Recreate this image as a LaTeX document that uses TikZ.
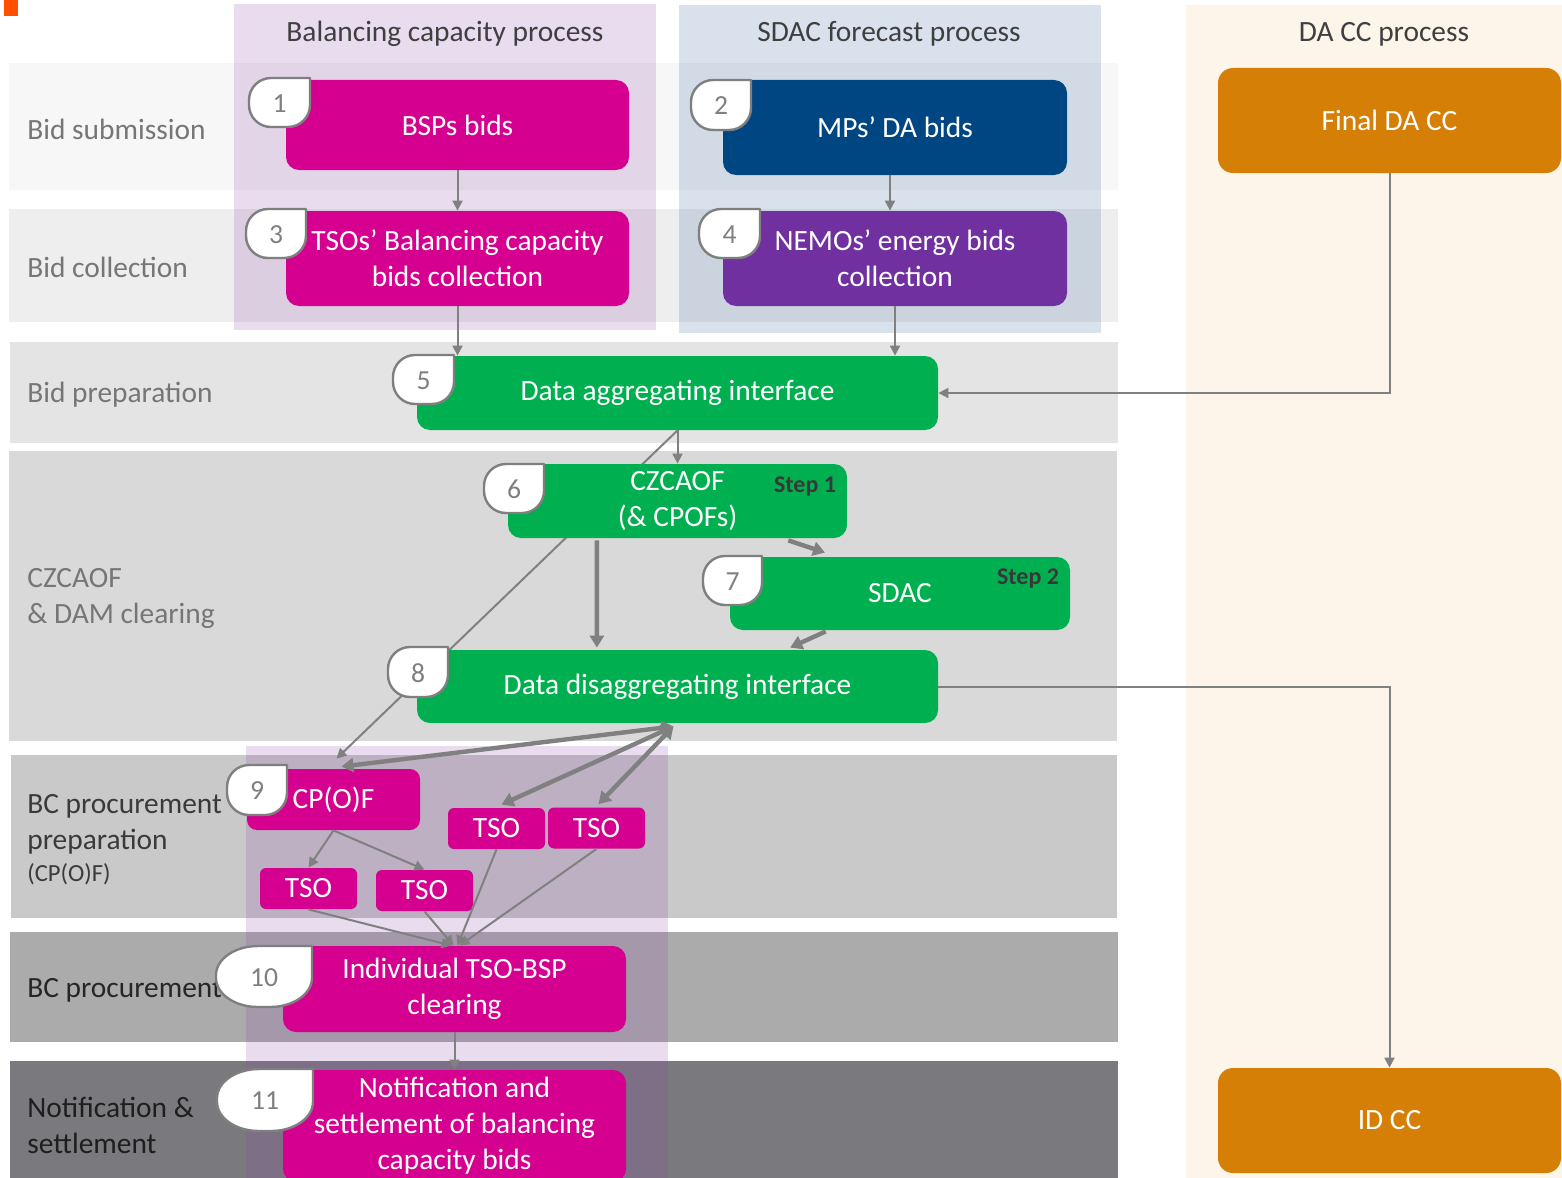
\documentclass[tikz,border=0pt]{standalone}
\usepackage{fontspec}
\setmainfont{Carlito}
\usetikzlibrary{arrows.meta,calc}

\pgfdeclarelayer{bg}
\pgfdeclarelayer{wires}
\pgfsetlayers{bg,wires,main}

% palette
\definecolor{mag}{HTML}{D5008F}
\definecolor{navy}{HTML}{004682}
\definecolor{nemo}{HTML}{7030A0}
\definecolor{grn}{HTML}{00B050}
\definecolor{orng}{HTML}{D57F07}
\definecolor{markorange}{HTML}{FF5000}
\definecolor{rowA}{HTML}{F7F7F7}
\definecolor{rowB}{HTML}{EEEEEE}
\definecolor{rowC}{HTML}{E4E4E4}
\definecolor{rowD}{HTML}{D9D9D9}
\definecolor{rowE}{HTML}{C9C9C9}
\definecolor{rowF}{HTML}{ABABAB}
\definecolor{rowG}{HTML}{7A797E}
\definecolor{tintpurple}{HTML}{8C50AA}
\definecolor{tintblue}{HTML}{416EA0}
\definecolor{dacccol}{HTML}{FDF4EA}
\definecolor{linegray}{HTML}{808080}
\definecolor{taggray}{HTML}{7F7F7F}
\definecolor{headgray}{HTML}{3F3F3F}
\definecolor{labA}{HTML}{767676}
\definecolor{labB}{HTML}{3A3A3A}
\definecolor{labC}{HTML}{262626}
\definecolor{labD}{HTML}{1E1E1E}
\definecolor{stepgray}{HTML}{383838}

\newcommand\mainfs{\fontsize{14.7}{18}\selectfont}
\newcommand\smallfs{\fontsize{12.3}{14}\selectfont}
\newcommand\tagfs{\fontsize{13.8}{15}\selectfont}
\newcommand\stepfs{\fontsize{12}{13}\selectfont}

% numbered call-out: name, x0, y0, x1, y1, rx, ry, number
\newcommand\numtag[8]{%
  \draw[tagline]
    (#4,#3) -- (#4,{#5-#7})
    .. controls (#4,{#5-0.448*#7}) and ({#4-0.448*#6},#5) .. ({#4-#6},#5)
    -- ({#2+#6},#5)
    .. controls ({#2+0.448*#6},#5) and (#2,{#5-0.448*#7}) .. (#2,{#5-#7})
    -- (#2,{#3+#7})
    .. controls (#2,{#3+0.448*#7}) and ({#2+0.448*#6},#3) .. ({#2+#6},#3)
    -- cycle;
  \node[tagnum] (#1) at ({(#2+#4)/2},{(#3+#5)/2+1}) {#8};
}

\tikzset{
  proc/.style={rounded corners=6.5pt, inner sep=1pt, align=center, text=white, font=\mainfs},
  tsobox/.style={proc, fill=mag, rounded corners=3pt, minimum width=48.5pt, minimum height=20.5pt},
  lane/.style={anchor=west, align=left, inner sep=0pt, font=\mainfs},
  colhead/.style={text=headgray, font=\mainfs, inner sep=0pt},
  tagline/.style={draw=taggray, line width=1.2pt, fill=white, line join=round},
  tagnum/.style={text=taggray, font=\tagfs, inner sep=0pt},
  flow/.style={draw=linegray, line width=1pt, -{Triangle[length=5pt,width=5pt]}},
  heavy/.style={draw=linegray, line width=2.2pt, -{Triangle[length=6pt,width=7pt]}},
  twoway/.style={draw=linegray, line width=2.2pt, {Triangle[length=6pt,width=7pt]}-{Triangle[length=6pt,width=7pt]}},
  steplabel/.style={font=\stepfs\bfseries, text=stepgray, inner sep=0pt},
}

\begin{document}
\begin{tikzpicture}[x=0.5pt,y=-0.5pt]
\useasboundingbox (0,0) rectangle (1562,1177);
\clip (0,0) rectangle (1562,1177);

\begin{pgfonlayer}{bg}
  \fill[white] (0,0) rectangle (1562,1177);
  \fill[markorange] (4,0) rectangle (18,16);
  % process stages (rows)
  \fill[rowA] (9,63) rectangle (1118,190);
  \fill[rowB] (9,209) rectangle (1118,322);
  \fill[rowC] (10,342) rectangle (1118,443);
  \fill[rowD] (9,451) rectangle (1117,741);
  \fill[rowE] (11,755) rectangle (1117,918);
  \fill[rowF] (10,932) rectangle (1118,1042);
  \fill[rowG] (10,1061) rectangle (1118,1185);
  % process columns
  \fill[tintpurple, fill opacity=0.2] (234,4) rectangle (656,330);
  \fill[tintblue, fill opacity=0.2] (679,5) rectangle (1101,333);
  \fill[dacccol] (1186,5) rectangle (1562,1185);
  \fill[tintpurple, fill opacity=0.2] (246,746) rectangle (668,1185);
\end{pgfonlayer}

% column headings
\node[colhead] (hbal) at (445,34) {Balancing capacity process};
\node[colhead] (hsdac) at (889,34) {SDAC forecast process};
\node[colhead] (hdacc) at (1384,34) {DA CC process};

% stage labels
\node[lane, text=labA] (lsub) at (27,129) {Bid submission};
\node[lane, text=labA] (lcol) at (27,267) {Bid collection};
\node[lane, text=labA] (lprep) at (27,395) {Bid preparation};
\node[lane, text=labA] (lczc) at (27,598) {CZCAOF\\\& DAM clearing};
\node[lane, text=labB] (lbcp) at (27,824) {BC procurement\\preparation};
\node[lane, text=labB, font=\smallfs] (lbcpx) at (27,874) {(CP(O)F)};
\node[lane, text=labC] (lbc) at (27,990) {BC procurement};
\node[lane, text=labD] (lnot) at (27,1125) {Notification \&\\settlement};

% process steps
\node[proc, fill=mag, minimum width=171.5pt, minimum height=45pt] (bsp) at (457.5,125) {BSPs bids};
\node[proc, fill=mag, minimum width=171.5pt, minimum height=47.5pt] (tsocol) at (457.5,258.5) {TSOs’ Balancing capacity\\bids collection};
\node[proc, fill=navy, minimum width=172pt, minimum height=47.5pt] (mps) at (895,127.5) {MPs’ DA bids};
\node[proc, fill=nemo, minimum width=172pt, minimum height=47.5pt] (nemos) at (895,258.5) {NEMOs’ energy bids\\collection};
\node[proc, fill=grn, minimum width=260.5pt, minimum height=37pt] (agg) at (677.5,393) {Data aggregating interface};
\node[proc, fill=grn, minimum width=169.5pt, minimum height=37pt] (czc) at (677.5,501) {CZCAOF\\(\& CPOFs)};
\node[steplabel] (st1) at (805,487) {Step 1};
\node[proc, fill=grn, minimum width=170pt, minimum height=36.5pt] (sdac) at (900,593.5) {SDAC};
\node[steplabel] (st2) at (1028,579) {Step 2};
\node[proc, fill=grn, minimum width=260.5pt, minimum height=36.5pt] (dis) at (677.5,686.5) {Data disaggregating interface};
\node[proc, fill=mag, rounded corners=5pt, minimum width=86.5pt, minimum height=30.5pt] (cpof) at (333.5,799.5) {CP(O)F};
\node[tsobox] (tsoA) at (496.5,828.5) {TSO};
\node[tsobox] (tsoB) at (596.5,828) {TSO};
\node[tsobox] (tsoC) at (308.5,888.5) {TSO};
\node[tsobox] (tsoD) at (424.5,890.5) {TSO};
\node[proc, fill=mag, minimum width=171.5pt, minimum height=43pt] (ind) at (454.5,989) {Individual TSO-BSP\\clearing};
\node[proc, fill=mag, minimum width=171.5pt, minimum height=56pt] (notif) at (454.5,1126) {Notification and\\settlement of balancing\\capacity bids};
\node[proc, fill=orng, rounded corners=7.5pt, minimum width=171.5pt, minimum height=52.5pt] (final) at (1389.5,120.5) {Final DA CC};
\node[proc, fill=orng, rounded corners=7.5pt, minimum width=171.5pt, minimum height=52.5pt] (idcc) at (1389.5,1120.5) {ID CC};

% connector running behind the boxes
\begin{pgfonlayer}{wires}
  \draw[flow] (agg.south) -- ($(cpof.north)+(1.5pt,5pt)$);
\end{pgfonlayer}

% connectors
\draw[flow] (bsp) -- (tsocol);
\draw[flow] (tsocol.south) -- (tsocol.south |- agg.north);
\draw[flow] ([xshift=-2.5pt]mps.south) -- ([xshift=-2.5pt]nemos.north);
\draw[flow] (nemos.south) -- (nemos.south |- agg.north);
\draw[flow] (final.south) |- (agg.east);
\draw[flow] (agg.south) -- (czc.north);
\draw[heavy] ($(czc.south west)!0.2625!(czc.south east)+(0,-1pt)$) -- ($(dis.north west)!0.3455!(dis.north east)+(0,1pt)$);
\draw[heavy] ($(czc.south west)!0.826!(czc.south east)+(0,-1pt)$) -- ($(sdac.north west)!0.28!(sdac.north east)+(0,2pt)$);
\draw[heavy] ($(sdac.south west)!0.282!(sdac.south east)+(0,-0.5pt)$) -- ($(dis.north west)!0.716!(dis.north east)+(0,1pt)$);
\draw[flow] (dis.east) -| (idcc.north);
\coordinate (hub) at ($(dis.south)+(-2pt,-1.5pt)$);
\draw[twoway] (hub) -- ($(cpof.north)+(4pt,1pt)$);
\draw[twoway] (hub) -- ($(tsoA.north)+(2.5pt,1.5pt)$);
\draw[twoway] (hub) -- ($(tsoB.north)+(1pt,1.5pt)$);
\draw[flow] (cpof.south) -- (tsoC.north);
\draw[flow] (cpof.south) -- (tsoD.north);
\draw[flow] (tsoC.south) -- ([xshift=-1.5pt]ind.north);
\draw[flow] (tsoD.south) -- ([xshift=-0.5pt]ind.north);
\draw[flow] (tsoA.south) -- ([xshift=1.5pt]ind.north);
\draw[flow] (tsoB.south) -- ([xshift=2.5pt]ind.north);
\draw[flow] (ind.south) -- (notif.north);

% step numbers
\numtag{n1}{249}{78}{310}{127}{22}{22}{1}
\numtag{n2}{691}{80}{751}{130}{22}{22}{2}
\numtag{n3}{246}{209}{306}{258}{22}{22}{3}
\numtag{n4}{699}{209}{760}{258}{22}{22}{4}
\numtag{n5}{393}{355}{454}{404}{22}{22}{5}
\numtag{n6}{484}{464}{544}{513}{22}{22}{6}
\numtag{n7}{703}{556}{762}{605}{22}{22}{7}
\numtag{n8}{388}{647}{448}{697}{22}{22}{8}
\numtag{n9}{227}{765}{287}{815}{22}{22}{9}
\numtag{n10}{216}{946}{312}{1007}{42}{29}{10}
\numtag{n11}{217}{1069}{313}{1131}{42}{29}{11}
\end{tikzpicture}
\end{document}
